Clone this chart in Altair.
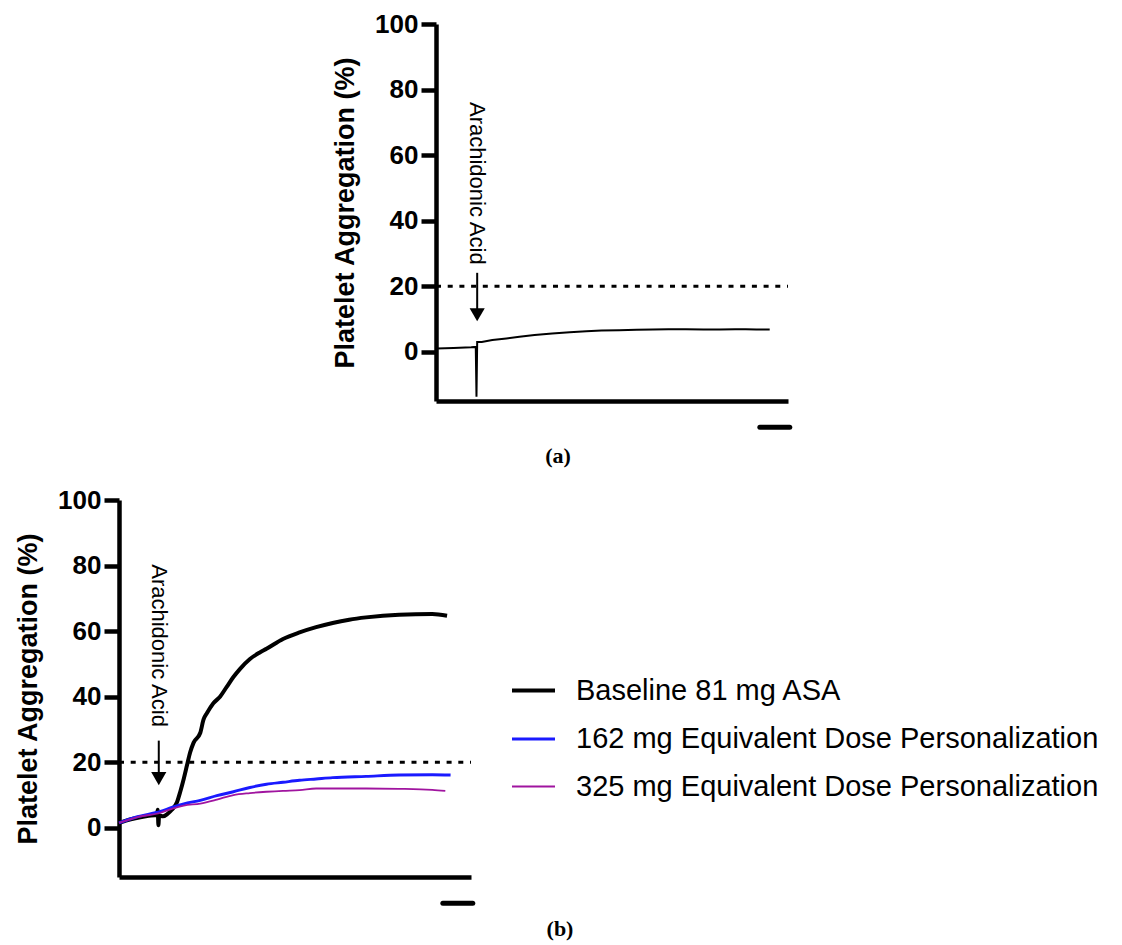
import altair as alt
import pandas as pd

# ---------------- data ----------------
# Panel (a): single aggregation trace
a_time = [0, 0.3, 5, 10, 11.3, 11.5, 11.7, 13, 16, 20, 23.7, 28, 33, 38, 42.7, 47, 52, 57,
          61.6, 66, 71, 76, 80.6, 85, 88, 91, 94.8]
a_value = [7.0, 1.0, 1.2, 1.4, 1.5, -13.7, 3.0, 3.0, 3.6, 4.1, 4.6, 5.1, 5.6, 6.0, 6.3, 6.5, 6.6, 6.7,
           6.8, 6.9, 6.9, 6.8, 6.8, 6.9, 6.9, 6.8, 6.8]

# Panel (b): three traces
series_names = ["Baseline 81 mg ASA",
                "162 mg Equivalent Dose Personalization",
                "325 mg Equivalent Dose Personalization"]
series_colors = ["#000000", "#1a1aff", "#a0149f"]
series_widths = [4.0, 1.8, 1.8]

black_time = [0, 2, 5, 8, 10.8, 11.0, 11.2, 11.4, 12.5, 13.7, 15, 16.5, 17.4, 18.4, 19.3, 20.2,
              21.2, 23.1, 24.0, 25.0, 26.8, 28.7, 30.6, 32.5, 34.4, 37.2, 40.0, 41.9, 46.6, 51.3,
              56.0, 60.7, 65.4, 70.2, 79.6, 89.0, 93.2]
black_value = [1.5, 2.2, 3.0, 3.6, 4.0, 5.5, 0.8, 3.8, 3.5, 4.2, 5.5, 7.9, 11, 15, 19, 23,
               26, 29, 33, 35, 38, 40, 43, 46, 48.5, 51.5, 53.5, 54.6, 57.6, 59.6,
               61.2, 62.5, 63.5, 64.2, 65.0, 65.2, 64.7]

blue_time = [0, 5, 11.8, 15, 18.4, 23.1, 27.8, 32.5, 37.2, 41.9, 46.6, 51.3, 56.0, 60.7, 70.2,
             79.6, 89.0, 94.2]
blue_value = [1.5, 3.3, 5.0, 6.2, 7.3, 8.4, 9.8, 11.0, 12.3, 13.3, 13.9, 14.5, 14.9, 15.3, 15.7,
              16.1, 16.2, 16.1]

purple_time = [0, 5, 11.8, 15, 18.4, 23.1, 27.8, 32.5, 37.2, 41.9, 46.6, 51.3, 56.0, 60.7, 70.2,
               79.6, 89.0, 92.7]
purple_value = [1.5, 3.2, 4.6, 5.8, 6.8, 7.4, 8.6, 10.0, 10.6, 11.0, 11.3, 11.5, 12.0, 12.0, 12.0,
                11.9, 11.6, 11.3]

y_ticks = [0, 20, 40, 60, 80, 100]
threshold = 20
annotation_text = "Arachidonic Acid"

# annotation anchors (data units)
a_arrow = dict(x=11.7, y_top=24.1, y_tip=13.0, head=11.3, label_y=51.4)
b_arrow = dict(x=11.3, y_top=26.6, y_tip=16.5, head=15.0, label_y=55.6)
scale_bar = dict(x=92.0, x2=100.5, y=-23.0)

# ---------------- helpers ----------------
Y_DOMAIN = [-15, 100]
X_DOMAIN = [0, 100]
W, H = 352, 377
AX_FONT = "Liberation Sans"

yscale = alt.Scale(domain=Y_DOMAIN, nice=False, zero=False)
xscale = alt.Scale(domain=X_DOMAIN, nice=False, zero=False)
yaxis = alt.Axis(values=y_ticks, title="Platelet Aggregation (%)", format="d")
xaxis = alt.Axis(ticks=False, labels=False, title=None)


def X(field):
    return alt.X(field, type="quantitative", scale=xscale, axis=xaxis)


def Y(field):
    return alt.Y(field, type="quantitative", scale=yscale, axis=yaxis)


def decorations(arrow):
    thr = alt.Chart(pd.DataFrame({"x": [X_DOMAIN[0]], "x2": [X_DOMAIN[1]], "y": [threshold]})).mark_rule(
        color="black", strokeWidth=3, strokeDash=[5, 6.7]
    ).encode(x=X("x"), x2="x2:Q", y=Y("y"))
    ar = alt.Chart(pd.DataFrame({"x": [arrow["x"]], "y": [arrow["y_top"]], "y2": [arrow["y_tip"]]})).mark_rule(
        color="black", strokeWidth=2
    ).encode(x=X("x"), y=Y("y"), y2="y2:Q")
    head = alt.Chart(pd.DataFrame({"x": [arrow["x"]], "y": [arrow["head"]]})).mark_point(
        shape="triangle-down", filled=True, color="black", size=230, opacity=1
    ).encode(x=X("x"), y=Y("y"))
    lab = alt.Chart(pd.DataFrame({"x": [arrow["x"]], "y": [arrow["label_y"]], "t": [annotation_text]})).mark_text(
        angle=90, font=AX_FONT, fontSize=22, color="black", align="center", baseline="middle"
    ).encode(x=X("x"), y=Y("y"), text="t:N")
    bar = alt.Chart(pd.DataFrame({"x": [scale_bar["x"]], "x2": [scale_bar["x2"]], "y": [scale_bar["y"]]})).mark_rule(
        color="black", strokeWidth=5, strokeCap="round"
    ).encode(x=X("x"), x2="x2:Q", y=Y("y"))
    return thr, ar, head, lab, bar


caption_style = dict(orient="bottom", anchor="middle", frame="group", font="Liberation Serif",
                     fontSize=22, fontWeight="bold", color="black")

# ---------------- panel (a) ----------------
df_a = pd.DataFrame({"t": a_time, "v": a_value})
line_a = alt.Chart(df_a).mark_line(color="black", strokeWidth=2).encode(x=X("t"), y=Y("v"))
thr_a, ar_a, head_a, lab_a, bar_a = decorations(a_arrow)
panel_a = alt.layer(thr_a, line_a, ar_a, head_a, lab_a, bar_a).properties(
    width=W, height=H,
    title=alt.TitleParams(text="(a)", dx=-54, offset=16, **caption_style),
)

spacer = alt.Chart(pd.DataFrame({"d": [0]})).mark_point(opacity=0).encode(
    x=alt.X("d:Q", axis=None), y=alt.Y("d:Q", axis=None)
).properties(width=212, height=10)

top_row = alt.hconcat(spacer, panel_a, spacing=0)

# ---------------- panel (b) ----------------
rows = []
for name, ts, vs in [(series_names[0], black_time, black_value),
                     (series_names[1], blue_time, blue_value),
                     (series_names[2], purple_time, purple_value)]:
    for i, (t, v) in enumerate(zip(ts, vs)):
        rows.append({"series": name, "t": t, "v": v, "i": i})
df_b = pd.DataFrame(rows)

legend = alt.Legend(
    title=None, orient="none", legendX=391, legendY=167, padding=0,
    symbolType="stroke", symbolSize=1849, labelFont=AX_FONT, labelFontSize=29,
    labelFontWeight="normal", labelOffset=19, labelLimit=1000, rowPadding=10,
    labelColor="black",
)
lines_b = alt.Chart(df_b).mark_line(interpolate="monotone").encode(
    x=X("t"), y=Y("v"),
    color=alt.Color("series:N", scale=alt.Scale(domain=series_names, range=series_colors), legend=legend),
    strokeWidth=alt.StrokeWidth("series:N", scale=alt.Scale(domain=series_names, range=series_widths), legend=legend),
    order=alt.Order("i:Q"),
    detail="series:N",
)
thr_b, ar_b, head_b, lab_b, bar_b = decorations(b_arrow)
panel_b = alt.layer(thr_b, lines_b, ar_b, head_b, lab_b, bar_b).properties(
    width=W, height=H,
    title=alt.TitleParams(text="(b)", dx=265, offset=13, **caption_style),
)

chart = alt.vconcat(top_row, panel_b, spacing=20).resolve_legend(
    color="independent", strokeWidth="independent"
).properties(
    padding={"left": 6, "top": 3, "right": 5, "bottom": 5}
).configure_view(stroke=None).configure_axis(
    domainColor="black", domainWidth=4.5, tickColor="black", tickWidth=4.5, tickSize=15,
    labelFont=AX_FONT, labelFontSize=26, labelFontWeight="bold", labelColor="black", labelPadding=3,
    titleFont=AX_FONT, titleFontSize=27, titleFontWeight="bold", titleColor="black", titlePadding=15,
    grid=False,
)

chart.save("out.html", embed_options={"renderer": "svg", "actions": False})
